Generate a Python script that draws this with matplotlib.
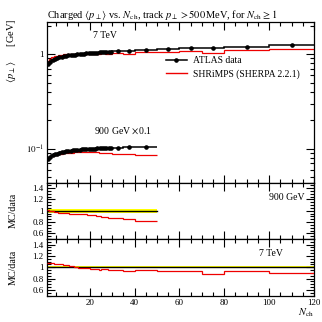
import numpy as np
import matplotlib
matplotlib.use("Agg")
import matplotlib.pyplot as plt
from matplotlib.ticker import MultipleLocator, FixedLocator, LogLocator, NullFormatter, FixedFormatter

plt.rcParams['font.family'] = ['Liberation Serif', 'DejaVu Serif']
plt.rcParams['mathtext.fontset'] = 'stix'

# ---------------- data ----------------
# bin edges (N_ch)
edges7 = [1, 2, 3, 4, 5, 6, 7, 8, 9, 10, 11, 12, 13, 14, 15, 16, 17, 18, 19, 20,
          21, 22, 23, 24, 25, 26, 27, 28, 29, 30, 35, 40, 50, 60, 70, 80, 100, 120]
edges900 = [1, 2, 3, 4, 5, 6, 7, 8, 9, 10, 11, 12, 13, 14, 15, 16, 17, 18, 19, 20,
            21, 22, 23, 24, 25, 26, 27, 28, 29, 30, 35, 40, 50]

# ATLAS data <pT> [GeV], 7 TeV
data7 = [0.79, 0.83, 0.86, 0.885, 0.905, 0.92, 0.935, 0.948, 0.958, 0.967,
         0.975, 0.982, 0.989, 0.995, 1.001, 1.006, 1.011, 1.016, 1.020, 1.025,
         1.029, 1.033, 1.037, 1.040, 1.044, 1.047, 1.050, 1.053, 1.056,
         1.066, 1.080, 1.100, 1.122, 1.150, 1.170, 1.190, 1.250]
# SHRiMPS / data ratio, 7 TeV
ratio7 = [1.07, 1.07, 1.07, 1.065, 1.06, 1.055, 1.05, 1.045, 1.04, 1.032,
          1.025, 1.015, 1.005, 1.0, 0.995, 0.99, 0.985, 0.982, 0.978, 0.975,
          0.972, 0.968, 0.962, 0.958, 0.975, 0.97, 0.965, 0.96, 0.958,
          0.953, 0.937, 0.953, 0.937, 0.93, 0.885, 0.93, 0.905]

# ATLAS data <pT> [GeV], 900 GeV
data900 = [0.78, 0.82, 0.85, 0.87, 0.89, 0.905, 0.918, 0.93, 0.94, 0.948,
           0.955, 0.962, 0.968, 0.973, 0.978, 0.983, 0.987, 0.991, 0.995, 0.999,
           1.002, 1.005, 1.008, 1.011, 1.014, 1.016, 1.018, 1.020, 1.022,
           1.028, 1.032, 1.038]
ratio900 = [1.01, 1.0, 0.99, 0.98, 0.972, 0.968, 0.964, 0.96, 0.956, 0.953,
            0.95, 0.948, 0.945, 0.942, 0.94, 0.938, 0.936, 0.934, 0.932, 0.93,
            0.925, 0.92, 0.91, 0.9, 0.895, 0.895, 0.89, 0.88, 0.875,
            0.865, 0.86, 0.823]

scale900 = 0.1
relerr7 = 0.02
relerr900 = 0.035

xticks = [20, 40, 60, 80, 100, 120]
yticks_main = [0.1, 1.0]
yticklabels_main = [r'$10^{-1}$', '1']
rticks = [0.6, 0.8, 1.0, 1.2, 1.4]
rticklabels = ['0.6', '0.8', '1', '1.2', '1.4']

# ---------------- derived ----------------
e7 = np.array(edges7, float)
e9 = np.array(edges900, float)
c7 = 0.5 * (e7[1:] + e7[:-1])
c9 = 0.5 * (e9[1:] + e9[:-1])
d7 = np.array(data7)
d9 = np.array(data900) * scale900
mc7 = d7 * np.array(ratio7)
mc9 = d9 * np.array(ratio900)

RED = '#ee0000'

fig = plt.figure(figsize=(3.22, 3.22), dpi=100)
L, W = 47 / 322, 267 / 322
ax = fig.add_axes([L, 1 - 182.5 / 322, W, 160.5 / 322])
r1 = fig.add_axes([L, 1 - 239 / 322, W, 56.5 / 322])
r2 = fig.add_axes([L, 1 - 295.5 / 322, W, 56.5 / 322])

def style(a):
    a.tick_params(which='both', direction='in', top=True, right=True,
                  labelsize=6.5, width=0.8, pad=2.5)
    a.tick_params(which='major', length=5.5)
    a.tick_params(which='minor', length=2.8)
    for s in a.spines.values():
        s.set_linewidth(0.9)
    a.set_xlim(1, 120)
    a.xaxis.set_major_locator(FixedLocator(xticks))
    a.xaxis.set_minor_locator(MultipleLocator(5))

# main panel
style(ax)
ax.set_yscale('log')
ax.set_ylim(0.044, 2.18)
ax.yaxis.set_major_locator(FixedLocator(yticks_main))
ax.yaxis.set_major_formatter(FixedFormatter(yticklabels_main))
ax.yaxis.set_minor_locator(LogLocator(base=10, subs=np.arange(2, 10), numticks=10))
ax.yaxis.set_minor_formatter(NullFormatter())
ax.set_xticklabels([])

ax.stairs(d7, e7, baseline=None, color='black', lw=1.1, zorder=3)
ax.plot(c7, d7, 'o', color='black', ms=2.3, zorder=4)
ax.stairs(mc7, e7, baseline=None, color=RED, lw=0.9, zorder=2)
ax.stairs(d9, e9, baseline=None, color='black', lw=1.1, zorder=3)
ax.plot(c9, d9, 'o', color='black', ms=2.3, zorder=4)
ax.stairs(mc9, e9, baseline=None, color=RED, lw=0.9, zorder=2)

ax.plot([], [], '-o', color='black', ms=2.3, lw=1.1, label='ATLAS data')
ax.plot([], [], '-', color=RED, lw=1.0, label='SHRiMPS (SHERPA 2.2.1)')
ax.legend(loc='upper left', bbox_to_anchor=(0.42, 0.83), frameon=False,
          fontsize=6.9, handlelength=2.2, handletextpad=0.6, labelspacing=0.45,
          borderpad=0.2)

ax.text(0.172, 0.916, '7 TeV', transform=ax.transAxes, fontsize=7, va='center', ha='left')
ax.text(0.176, 0.324, r'900 GeV $\times$0.1', transform=ax.transAxes, fontsize=7,
        va='center', ha='left')
ax.set_ylabel(r'$\langle p_\perp \rangle$      [GeV]', fontsize=7.5, loc='top')
ax.yaxis.set_label_coords(-0.11, 1.02)
ax.set_title(r'Charged $\langle p_\perp \rangle$ vs. $N_\mathrm{ch}$, track $p_\perp > 500\,$MeV, for $N_\mathrm{ch} \geq 1$',
             fontsize=7.5, loc='left', pad=3)

# ratio panels
def ratio_panel(a, edges, ratio, relerr, label, lx):
    style(a)
    a.set_ylim(0.5, 1.5)
    a.yaxis.set_major_locator(FixedLocator(rticks))
    a.set_yticklabels(rticklabels)
    a.yaxis.set_minor_locator(MultipleLocator(0.05))
    e = np.array(edges, float)
    a.fill_between([e[0], e[-1]], 1 - relerr, 1 + relerr, color='#ffff00', lw=0, zorder=1)
    a.plot([e[0], e[-1]], [1, 1], color='black', lw=1.0, zorder=2)
    a.stairs(ratio, e, baseline=None, color=RED, lw=0.9, zorder=3)
    a.set_ylabel('MC/data', fontsize=7.2)
    a.yaxis.set_label_coords(-0.11, 0.5)
    a.text(lx, 0.74, label, transform=a.transAxes, fontsize=7, ha='right', va='center')

ratio_panel(r1, edges900, ratio900, relerr900, '900 GeV', 0.966)
r1.set_xticklabels([])
ratio_panel(r2, edges7, ratio7, relerr7, '7 TeV', 0.884)
r2.set_xticklabels([str(t) for t in xticks])
r2.set_xlabel(r'$N_\mathrm{ch}$', fontsize=7.5, loc='right', labelpad=0)

fig.savefig('out.png', dpi=100)
